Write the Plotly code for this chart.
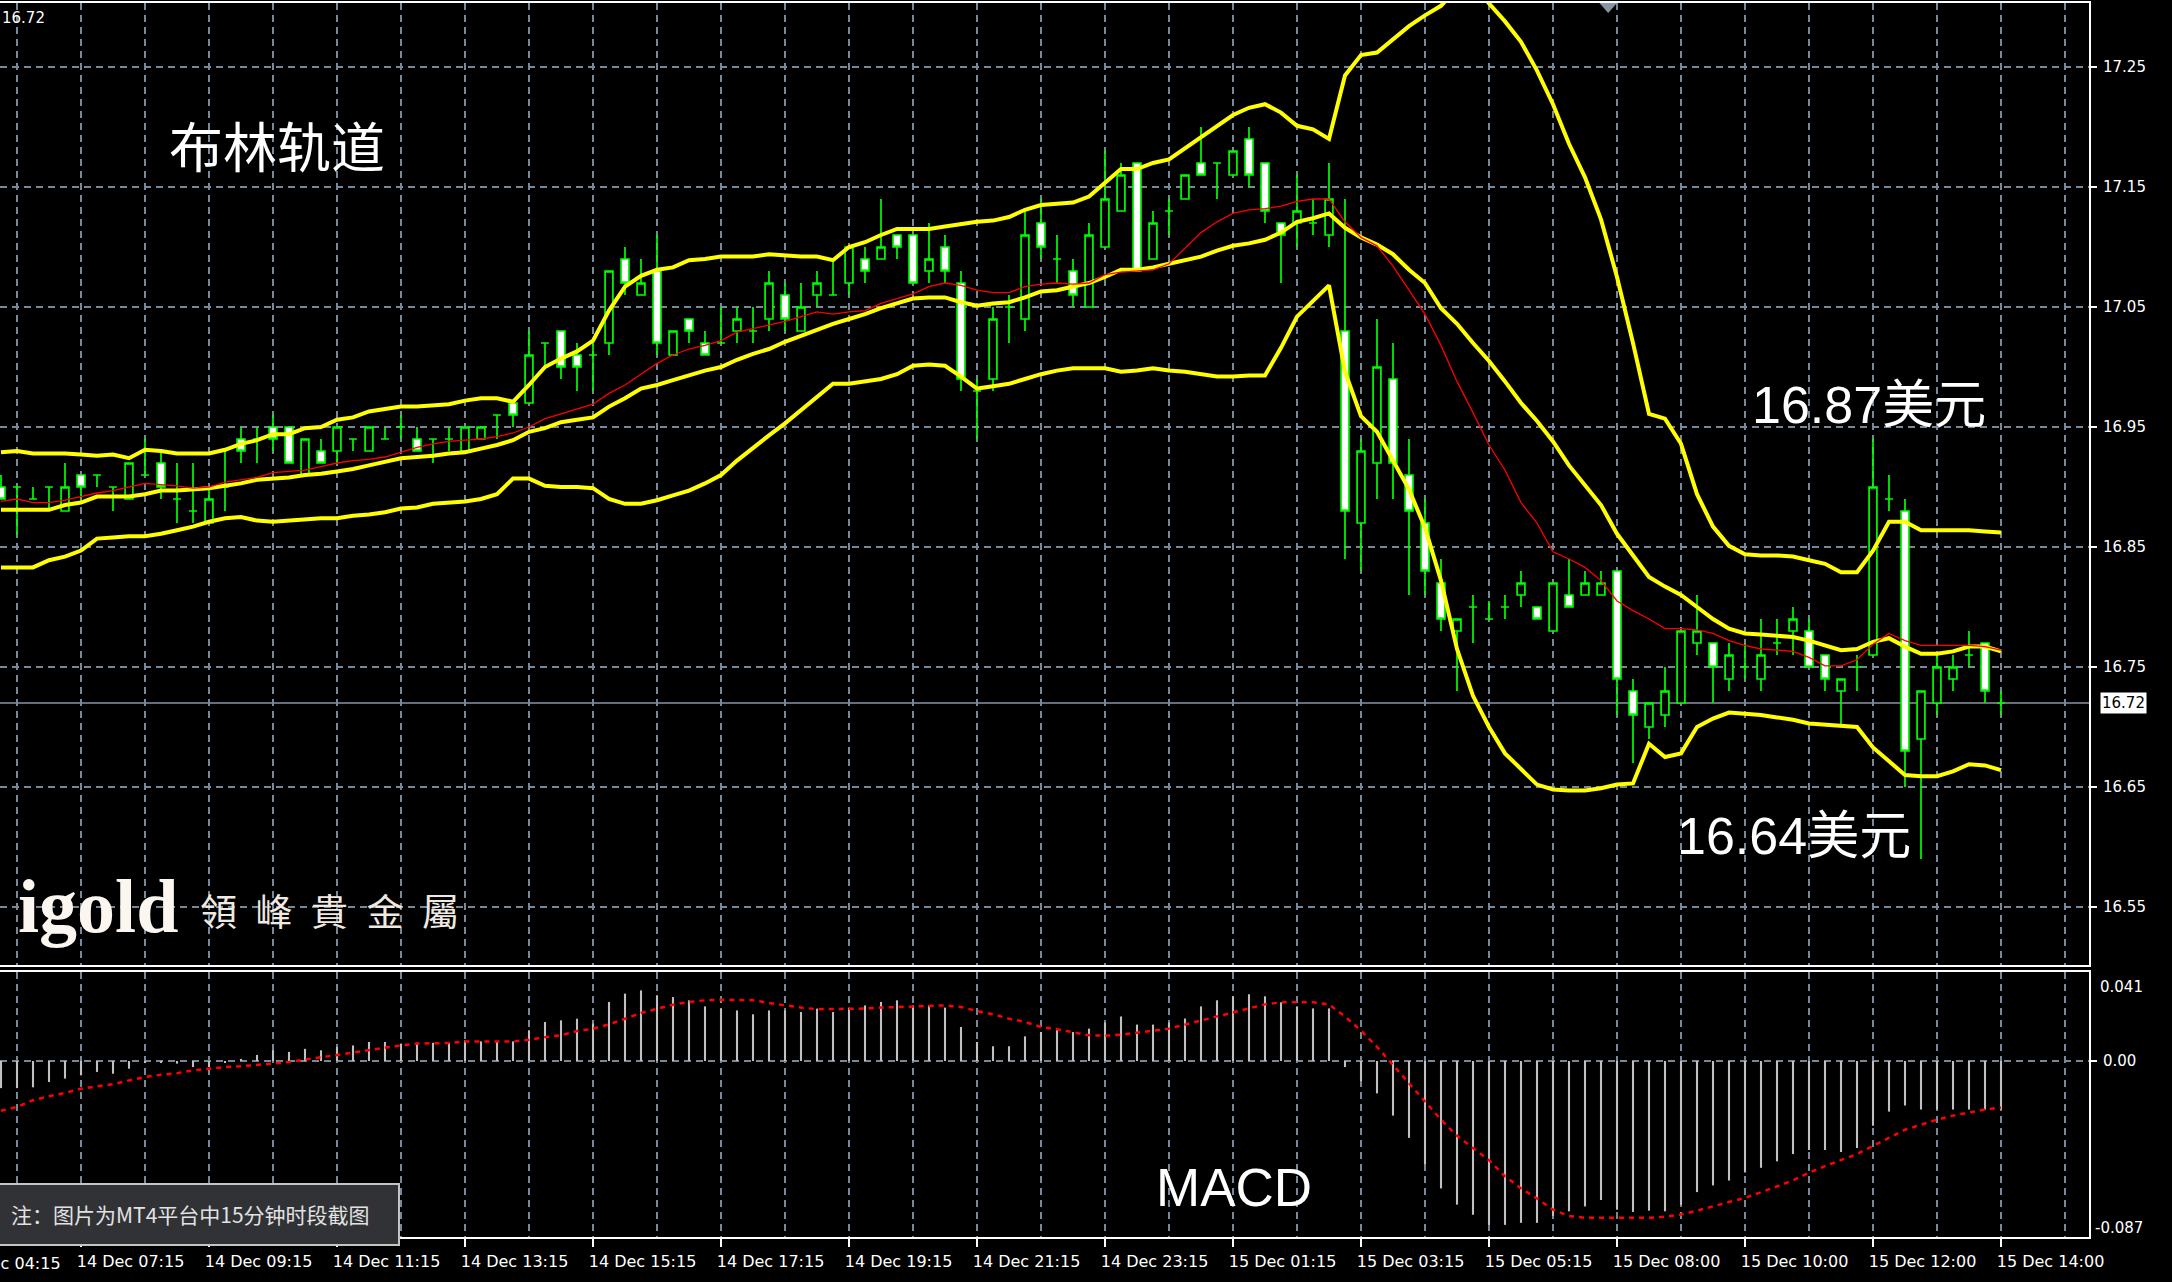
import plotly.graph_objects as go

# ---------------- data (15-minute bars, index 0..125) ----------------
time_label_bars = [5, 13, 21, 29, 37, 45, 53, 61, 69, 77, 85, 93, 101, 109, 117, 125]
time_labels = ["14 Dec 07:15", "14 Dec 09:15", "14 Dec 11:15", "14 Dec 13:15",
               "14 Dec 15:15", "14 Dec 17:15", "14 Dec 19:15", "14 Dec 21:15",
               "14 Dec 23:15", "15 Dec 01:15", "15 Dec 03:15", "15 Dec 05:15",
               "15 Dec 08:00", "15 Dec 10:00", "15 Dec 12:00", "15 Dec 14:00"]
first_cut_label = "14 Dec 04:15"
grid_minor_bars = [1, 9, 17, 25, 33, 41, 49, 57, 65, 73, 81, 89, 97, 105, 113, 121, 129]
price_ticks = [16.55, 16.65, 16.75, 16.85, 16.95, 17.05, 17.15, 17.25]
last_price = 16.72

open_ = [16.90,16.90,16.89,16.90,16.88,16.91,16.91,16.90,16.89,16.91,
         16.92,16.89,16.88,16.87,16.90,16.94,16.94,16.95,16.95,16.91,
         16.93,16.93,16.94,16.93,16.94,16.95,16.94,16.94,16.94,16.93,
         16.94,16.96,16.97,16.97,17.02,17.03,17.01,17.01,17.02,17.09,
         17.06,17.08,17.01,17.04,17.02,17.02,17.03,17.03,17.04,17.06,
         17.03,17.06,17.06,17.07,17.09,17.09,17.11,17.11,17.08,17.10,
         17.07,16.98,16.99,17.05,17.04,17.12,17.09,17.08,17.05,17.10,
         17.13,17.17,17.09,17.13,17.14,17.17,17.17,17.16,17.19,17.17,
         17.12,17.12,17.12,17.11,17.03,16.87,16.92,16.99,16.91,16.87,
         16.82,16.78,16.80,16.79,16.80,16.81,16.80,16.78,16.81,16.81,
         16.81,16.83,16.73,16.70,16.71,16.72,16.77,16.77,16.74,16.75,
         16.74,16.77,16.78,16.78,16.76,16.73,16.75,16.76,16.89,16.88,
         16.69,16.72,16.74,16.76,16.77,16.72]
high = [16.91,16.90,16.90,16.90,16.92,16.91,16.91,16.90,16.92,16.94,
        16.93,16.92,16.92,16.90,16.93,16.95,16.95,16.96,16.95,16.94,
        16.94,16.95,16.94,16.95,16.95,16.96,16.95,16.94,16.95,16.95,
        16.95,16.96,16.97,17.03,17.02,17.03,17.02,17.02,17.08,17.10,
        17.09,17.11,17.03,17.04,17.03,17.05,17.05,17.05,17.08,17.07,
        17.07,17.08,17.09,17.10,17.10,17.14,17.11,17.11,17.12,17.11,
        17.08,16.99,17.05,17.06,17.13,17.14,17.11,17.09,17.12,17.18,
        17.17,17.17,17.13,17.14,17.16,17.20,17.17,17.18,17.20,17.17,
        17.12,17.16,17.14,17.17,17.14,16.94,17.04,17.02,16.94,16.89,
        16.84,16.79,16.81,16.805,16.81,16.83,16.80,16.82,16.84,16.83,
        16.83,16.83,16.74,16.72,16.75,16.78,16.81,16.77,16.77,16.77,
        16.79,16.79,16.80,16.79,16.76,16.74,16.76,16.94,16.91,16.89,
        16.73,16.76,16.76,16.78,16.77,16.73]
low = [16.89,16.86,16.89,16.88,16.88,16.89,16.90,16.88,16.89,16.91,
       16.89,16.87,16.87,16.87,16.88,16.92,16.92,16.93,16.92,16.91,
       16.92,16.92,16.93,16.93,16.94,16.94,16.93,16.92,16.93,16.93,
       16.94,16.94,16.95,16.97,17.00,16.99,16.98,16.98,17.01,17.06,
       17.06,17.01,17.01,17.02,17.01,17.02,17.02,17.02,17.03,17.03,
       17.03,17.05,17.06,17.06,17.07,17.09,17.09,17.07,17.07,17.07,
       16.98,16.94,16.98,17.02,17.03,17.09,17.07,17.05,17.05,17.10,
       17.13,17.08,17.09,17.11,17.14,17.16,17.14,17.16,17.15,17.12,
       17.07,17.10,17.11,17.10,16.84,16.83,16.89,16.89,16.81,16.81,
       16.78,16.73,16.77,16.79,16.79,16.80,16.79,16.78,16.80,16.81,
       16.81,16.71,16.67,16.69,16.70,16.72,16.76,16.72,16.73,16.74,
       16.73,16.76,16.76,16.75,16.73,16.70,16.73,16.76,16.88,16.65,
       16.59,16.71,16.73,16.75,16.72,16.71]
close = [16.89,16.90,16.89,16.90,16.90,16.90,16.91,16.90,16.92,16.91,
         16.90,16.89,16.88,16.89,16.90,16.93,16.94,16.94,16.92,16.94,
         16.92,16.95,16.94,16.95,16.94,16.95,16.93,16.94,16.94,16.95,
         16.95,16.96,16.96,17.01,17.02,17.00,17.00,17.01,17.08,17.07,
         17.07,17.02,17.03,17.03,17.01,17.02,17.04,17.03,17.07,17.04,
         17.05,17.07,17.06,17.10,17.08,17.10,17.10,17.07,17.09,17.08,
         16.99,16.98,17.04,17.05,17.11,17.10,17.09,17.06,17.11,17.14,
         17.16,17.08,17.12,17.13,17.16,17.16,17.17,17.18,17.16,17.13,
         17.11,17.13,17.12,17.14,16.88,16.93,17.00,16.92,16.88,16.83,
         16.79,16.79,16.80,16.79,16.80,16.82,16.79,16.82,16.80,16.82,
         16.82,16.74,16.71,16.72,16.73,16.78,16.78,16.75,16.76,16.75,
         16.76,16.77,16.79,16.75,16.74,16.74,16.75,16.90,16.89,16.68,
         16.73,16.75,16.75,16.76,16.73,16.72]

bb_upper = [16.929,16.930,16.928,16.928,16.928,16.927,16.926,16.927,16.924,16.931,
            16.930,16.928,16.928,16.928,16.931,16.936,16.939,16.944,16.944,16.949,
            16.950,16.956,16.958,16.963,16.965,16.967,16.967,16.968,16.969,16.972,
            16.974,16.974,16.971,16.985,17.000,17.007,17.013,17.022,17.047,17.067,
            17.076,17.081,17.083,17.089,17.090,17.092,17.092,17.092,17.094,17.093,
            17.092,17.092,17.089,17.100,17.104,17.110,17.115,17.115,17.115,17.117,
            17.119,17.121,17.122,17.125,17.131,17.135,17.136,17.137,17.142,17.153,
            17.165,17.165,17.170,17.173,17.182,17.192,17.201,17.210,17.216,17.219,
            17.212,17.201,17.198,17.190,17.243,17.260,17.262,17.273,17.284,17.293,
            17.301,17.315,17.318,17.303,17.288,17.271,17.247,17.219,17.186,17.158,
            17.123,17.075,17.020,16.961,16.957,16.936,16.894,16.867,16.851,16.844,
            16.843,16.843,16.842,16.839,16.836,16.829,16.829,16.847,16.871,16.871,
            16.864,16.864,16.864,16.864,16.863,16.862]
bb_middle = [16.881,16.881,16.881,16.881,16.885,16.887,16.892,16.892,16.892,16.894,
             16.897,16.897,16.898,16.899,16.901,16.903,16.906,16.907,16.908,16.910,
             16.911,16.913,16.915,16.918,16.921,16.924,16.925,16.926,16.928,16.929,
             16.932,16.935,16.939,16.946,16.949,16.954,16.956,16.958,16.967,16.974,
             16.982,16.985,16.989,16.993,16.997,17.000,17.006,17.011,17.015,17.021,
             17.026,17.031,17.036,17.040,17.044,17.049,17.053,17.057,17.058,17.058,
             17.054,17.051,17.053,17.054,17.058,17.063,17.064,17.067,17.070,17.075,
             17.081,17.081,17.083,17.086,17.089,17.092,17.097,17.101,17.103,17.106,
             17.112,17.121,17.124,17.128,17.116,17.108,17.102,17.094,17.081,17.070,
             17.049,17.036,17.020,17.005,16.988,16.970,16.955,16.938,16.918,16.901,
             16.885,16.861,16.843,16.825,16.817,16.810,16.800,16.790,16.782,16.778,
             16.777,16.776,16.775,16.772,16.768,16.764,16.765,16.771,16.774,16.767,
             16.761,16.761,16.763,16.767,16.767,16.763]
bb_lower = [16.833,16.833,16.833,16.839,16.842,16.847,16.857,16.858,16.859,16.859,
            16.861,16.864,16.867,16.871,16.874,16.875,16.872,16.871,16.872,16.873,
            16.874,16.874,16.876,16.877,16.879,16.882,16.883,16.886,16.887,16.888,
            16.890,16.894,16.907,16.907,16.901,16.900,16.900,16.899,16.890,16.886,
            16.886,16.889,16.893,16.897,16.903,16.910,16.922,16.933,16.943,16.953,
            16.964,16.975,16.986,16.986,16.988,16.990,16.994,17.001,17.002,17.001,
            16.992,16.982,16.984,16.986,16.990,16.994,16.997,16.999,16.999,16.999,
            16.996,16.997,16.999,16.997,16.996,16.994,16.992,16.992,16.993,16.993,
            17.016,17.042,17.055,17.068,16.996,16.959,16.946,16.922,16.898,16.866,
            16.822,16.765,16.726,16.700,16.678,16.665,16.652,16.648,16.647,16.647,
            16.649,16.652,16.653,16.686,16.675,16.678,16.700,16.707,16.712,16.711,
            16.710,16.708,16.706,16.703,16.702,16.701,16.700,16.683,16.672,16.660,
            16.659,16.659,16.663,16.669,16.668,16.664]
ma_red = [16.888,16.890,16.887,16.887,16.889,16.892,16.895,16.897,16.900,16.903,
          16.902,16.901,16.899,16.900,16.904,16.906,16.908,16.912,16.913,16.914,
          16.917,16.920,16.922,16.923,16.925,16.929,16.933,16.936,16.938,16.939,
          16.940,16.942,16.945,16.950,16.957,16.961,16.965,16.969,16.978,16.985,
          16.994,17.003,17.010,17.015,17.018,17.022,17.029,17.032,17.035,17.038,
          17.042,17.046,17.044,17.046,17.047,17.053,17.057,17.061,17.067,17.070,
          17.068,17.064,17.062,17.062,17.067,17.069,17.070,17.069,17.070,17.077,
          17.079,17.080,17.081,17.086,17.099,17.112,17.121,17.128,17.131,17.132,
          17.134,17.138,17.140,17.140,17.121,17.108,17.101,17.084,17.064,17.044,
          17.018,16.988,16.962,16.935,16.914,16.887,16.870,16.846,16.840,16.833,
          16.822,16.805,16.797,16.790,16.782,16.782,16.781,16.778,16.772,16.768,
          16.765,16.764,16.763,16.758,16.751,16.751,16.756,16.769,16.778,16.772,
          16.768,16.768,16.768,16.768,16.767,16.764]

macd_hist = [-0.0134,-0.0134,-0.013,-0.0104,-0.0087,-0.0071,-0.0054,-0.0063,-0.0038,-0.001,
             -0.0005,-0.0013,-0.003,-0.003,-0.0005,0.0005,0.003,0.0053,0.0045,0.006,
             0.0053,0.0069,0.0077,0.0094,0.0094,0.0086,0.009,0.009,0.009,0.0102,
             0.0097,0.0097,0.0097,0.0152,0.0193,0.0201,0.0209,0.0185,0.0292,0.0333,
             0.0349,0.0325,0.0316,0.030,0.027,0.0259,0.025,0.0231,0.025,0.025,
             0.0242,0.0259,0.0242,0.0264,0.0275,0.0292,0.030,0.0275,0.0275,0.0264,
             0.0168,0.0094,0.0073,0.0073,0.0122,0.0143,0.016,0.0143,0.016,0.019,
             0.022,0.018,0.018,0.019,0.021,0.027,0.030,0.032,0.033,0.032,
             0.029,0.027,0.026,0.026,-0.003,-0.010,-0.016,-0.027,-0.038,-0.051,
             -0.063,-0.071,-0.076,-0.081,-0.081,-0.080,-0.080,-0.0766,-0.0743,-0.0719,
             -0.0687,-0.0735,-0.0746,-0.074,-0.0743,-0.0711,-0.0648,-0.0615,-0.0591,-0.0551,
             -0.0528,-0.0496,-0.046,-0.044,-0.044,-0.045,-0.043,-0.032,-0.025,-0.022,
             -0.024,-0.024,-0.024,-0.024,-0.024,-0.024]
macd_signal = [-0.0246,-0.0227,-0.0194,-0.0174,-0.0158,-0.0137,-0.0125,-0.0115,-0.0096,-0.0079,
               -0.0068,-0.006,-0.0046,-0.0038,-0.003,-0.0026,-0.0021,-0.0013,-0.0005,0.0007,
               0.002,0.0031,0.0044,0.0056,0.0066,0.0077,0.0086,0.0089,0.0089,0.0097,
               0.0097,0.0097,0.0097,0.0105,0.0118,0.0127,0.0148,0.0159,0.0181,0.0209,
               0.0237,0.0258,0.0278,0.0292,0.030,0.0303,0.0303,0.030,0.0287,0.0275,
               0.0264,0.0256,0.0256,0.0256,0.0259,0.0264,0.0267,0.027,0.0275,0.0275,
               0.0267,0.0247,0.0231,0.0209,0.0193,0.0168,0.0157,0.0143,0.0127,0.0125,
               0.013,0.014,0.015,0.016,0.018,0.020,0.022,0.024,0.026,0.028,
               0.029,0.029,0.029,0.028,0.022,0.015,0.007,-0.002,-0.011,-0.020,
               -0.029,-0.037,-0.043,-0.049,-0.057,-0.063,-0.068,-0.0735,-0.0766,-0.0775,
               -0.0775,-0.0775,-0.0775,-0.0775,-0.077,-0.0759,-0.074,-0.0717,-0.0697,-0.0677,
               -0.065,-0.062,-0.059,-0.0552,-0.052,-0.049,-0.046,-0.042,-0.038,-0.034,
               -0.0315,-0.029,-0.027,-0.0255,-0.024,-0.023]

bars = list(range(len(close)))
for arr in (open_, high, low, bb_upper, bb_middle, bb_lower, ma_red, macd_hist, macd_signal):
    assert len(arr) == len(bars), len(arr)

# ---------------- layout geometry (pixels) ----------------
FIG_W, FIG_H = 2172, 1282
PLOT_RIGHT = 2089
PLOT_TOP, PLOT_BOTTOM = 3, 1237
MAIN_BOTTOM, MACD_TOP = 965, 972
BAR_PX = 16.0


def px(x):
    return x / PLOT_RIGHT


def py(y):
    return (PLOT_BOTTOM - y) / (PLOT_BOTTOM - PLOT_TOP)


def price_at(y):
    return 17.25 + (67 - y) / 1200.0


def macd_at(y):
    return (1061 - y) / 2023.0


GRID = dict(showgrid=True, gridcolor="#778899", gridwidth=1.5, griddash="7px,5px")
AXFONT = dict(family="DejaVu Sans", size=15, color="white")
XFONT = dict(family="DejaVu Sans", size=16, color="white")

fig = go.Figure()

fig.add_trace(go.Candlestick(
    x=bars, open=open_, high=high, low=low, close=close,
    xaxis="x", yaxis="y",
    increasing=dict(line=dict(color="#00FF00", width=1.7), fillcolor="black"),
    decreasing=dict(line=dict(color="#00FF00", width=1.7), fillcolor="white"),
    whiskerwidth=0, hoverinfo="skip",
))
for vals, color, width in [(bb_upper, "#FFFF00", 4), (bb_lower, "#FFFF00", 4),
                           (bb_middle, "#FFFF00", 4), (ma_red, "#FF0000", 1.3)]:
    fig.add_trace(go.Scatter(x=bars, y=vals, mode="lines", xaxis="x", yaxis="y",
                             line=dict(color=color, width=width), hoverinfo="skip"))

fig.add_trace(go.Bar(x=bars, y=macd_hist, width=0.13, xaxis="x2", yaxis="y2",
                     marker=dict(color="#C0C0C0", line=dict(width=0)), hoverinfo="skip"))
fig.add_trace(go.Scatter(x=bars, y=macd_signal, mode="lines", xaxis="x2", yaxis="y2",
                         line=dict(color="#FF0000", width=2.5, dash="5px,5px"), hoverinfo="skip"))

x_range = [-1 / BAR_PX, (PLOT_RIGHT - 1) / BAR_PX]
minor_grid = dict(tickvals=grid_minor_bars, ticks="", showgrid=True, gridcolor="#778899",
                  gridwidth=1.5, griddash="7px,5px")

fig.update_layout(
    width=FIG_W, height=FIG_H,
    margin=dict(l=0, r=FIG_W - PLOT_RIGHT, t=PLOT_TOP, b=FIG_H - PLOT_BOTTOM, autoexpand=False),
    paper_bgcolor="black", plot_bgcolor="black", showlegend=False,
    xaxis=dict(domain=[0, 1], anchor="y", range=x_range, tickvals=time_label_bars,
               showticklabels=False, ticks="", minor=minor_grid, zeroline=False,
               showline=True, mirror=True, linecolor="white", linewidth=2,
               rangeslider=dict(visible=False), **GRID),
    yaxis=dict(domain=[py(MAIN_BOTTOM), 1], anchor="x", side="right",
               range=[price_at(MAIN_BOTTOM), price_at(PLOT_TOP)],
               tickvals=price_ticks, ticktext=[f"{v:.2f}" for v in price_ticks],
               ticks="outside", ticklen=6, tickwidth=1.5, tickcolor="white",
               ticklabelstandoff=3, tickfont=AXFONT, zeroline=False,
               showline=True, mirror=True, linecolor="white", linewidth=2, **GRID),
    xaxis2=dict(domain=[0, 1], anchor="y2", matches="x", range=x_range,
                tickvals=time_label_bars, ticktext=time_labels, tickangle=0,
                ticklabelposition="outside right", ticks="outside", ticklen=8,
                ticklabelstandoff=9, ticklabelshift=-6,
                tickwidth=1.5, tickcolor="white", tickfont=XFONT, minor=minor_grid,
                zeroline=False, showline=True, mirror=True, linecolor="white", linewidth=2,
                **GRID),
    yaxis2=dict(domain=[0, py(MACD_TOP)], anchor="x2", side="right",
                range=[macd_at(PLOT_BOTTOM), macd_at(MACD_TOP)],
                tickvals=[0.0], ticktext=["0.00"], ticks="outside", ticklen=6,
                tickwidth=1.5, tickcolor="white", ticklabelstandoff=3, tickfont=AXFONT,
                zeroline=False, showline=True, mirror=True, linecolor="white", linewidth=2,
                **GRID),
)

shapes = [
    dict(type="line", xref="paper", x0=0, x1=1, yref="y", y0=last_price, y1=last_price,
         line=dict(color="#8a94a2", width=1.5), layer="between"),
    dict(type="path", xref="x", yref="paper", layer="above",
         path=f"M {100.45 - 0.55},{py(3)} L {100.45 + 0.55},{py(3)} L 100.45,{py(13)} Z",
         fillcolor="#8795a5", line=dict(width=0)),
    dict(type="rect", xref="paper", yref="paper", layer="above",
         x0=px(-3), x1=px(399), y0=py(1245), y1=py(1184),
         fillcolor="#303236", line=dict(color="#c4c4c4", width=2)),
]
fig.update_layout(shapes=shapes)

white = "white"
ann = [
    dict(text="布林轨道", x=px(277), y=py(145), font=dict(family="Noto Sans CJK SC", size=54, color=white)),
    dict(text="16.87美元", x=px(1869), y=py(405),
         font=dict(family="Liberation Sans, Noto Sans CJK SC", size=52, color=white)),
    dict(text="16.64美元", x=px(1794), y=py(836),
         font=dict(family="Liberation Sans, Noto Sans CJK SC", size=52, color=white)),
    dict(text="MACD", x=px(1234), y=py(1187), font=dict(family="Liberation Sans", size=53, color=white)),
    dict(text="igold", x=px(16), y=py(906), xanchor="left",
         font=dict(family="Liberation Serif", size=76, color="#fbf6ef", weight="bold")),
    dict(text="領\u2002峰\u2002貴\u2002金\u2002屬", x=px(198), y=py(910), xanchor="left",
         font=dict(family="Noto Sans CJK TC", size=37, color="#efe9e1")),
    dict(text="注：图片为MT4平台中15分钟时段截图", x=px(190), y=py(1214),
         font=dict(family="Noto Sans CJK SC", size=21, color="#e2e2e2")),
    dict(text="16.72", x=px(0), y=py(18), xanchor="left", font=dict(family="DejaVu Sans", size=15, color=white)),
    dict(text=f"{last_price:.2f}", x=px(2100), xanchor="left", y=last_price, yref="y",
         font=dict(family="DejaVu Sans", size=15, color="black"), bgcolor="white", borderpad=1),
    dict(text="0.041", x=px(2098), y=py(987), xanchor="left", font=AXFONT),
    dict(text="-0.087", x=px(2093), y=py(1228), xanchor="left", font=AXFONT),
    dict(text=first_cut_label, x=px(63), y=py(1263), xanchor="right", font=XFONT),
]
for a in ann:
    a.setdefault("xref", "paper")
    a.setdefault("yref", "paper")
    a.setdefault("xanchor", "center")
    a.setdefault("yanchor", "middle")
    a["showarrow"] = False
fig.update_layout(annotations=ann)

fig.write_html("out.html", config={"displayModeBar": False},
               post_script="document.body.style.margin='0';document.body.style.overflow='hidden';")
